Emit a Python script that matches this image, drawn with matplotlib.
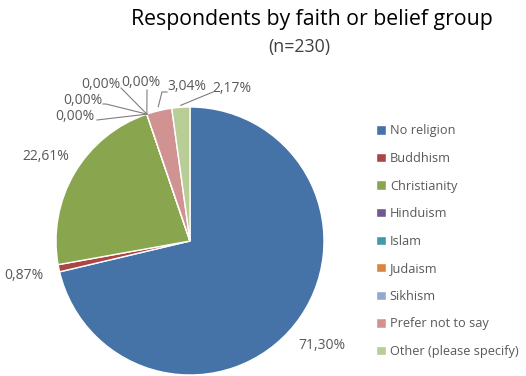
import matplotlib.pyplot as plt
import numpy as np

plt.rcParams['font.family'] = ['Open Sans', 'DejaVu Sans']

# respondents per group (n=230)
groups = ['No religion', 'Buddhism', 'Christianity', 'Hinduism', 'Islam',
          'Judaism', 'Sikhism', 'Prefer not to say', 'Other (please specify)']
counts = [164, 2, 52, 0, 0, 0, 0, 7, 5]
colors = ['#4572A7', '#AA4643', '#89A54E', '#71588F', '#4198AF',
          '#DB843D', '#93A9CF', '#D19392', '#B9CD96']

total = sum(counts)
shares = [100.0 * c / total for c in counts]

W, H = 526, 376
fig = plt.figure(figsize=(W / 100, H / 100), dpi=100)
ax = fig.add_axes([0, 0, 1, 1])

cx, cy, r = 190, 241, 134
# y axis is flipped, so counterclock=True runs clockwise on screen
wedges, _ = ax.pie(counts, colors=colors, startangle=-90, counterclock=True,
                   center=(cx, cy), radius=r, frame=True,
                   wedgeprops=dict(edgecolor='white', linewidth=1))
ax.set_xlim(0, W)
ax.set_ylim(H, 0)
ax.axis('off')


def fmt(v):
    return ('%.2f%%' % v).replace('.', ',')


def edge_pt(w, rr):
    a = np.deg2rad((w.theta1 + w.theta2) / 2)
    return cx + rr * np.cos(a), cy + rr * np.sin(a)


lab_col = '#595959'
fs = 10
# big slices: label out along the middle angle
for i, rr in [(0, 168), (1, 170), (2, 167)]:
    x, y = edge_pt(wedges[i], rr)
    ax.text(x, y, fmt(shares[i]), ha='center', va='center',
            fontsize=fs, color=lab_col)

# small slices: label text position, elbow, line end radius
small = {
    3: ((95, 116), 'right', [(97, 120)], 134),
    4: ((102, 100), 'right', [(103, 104), (106, 104)], 134),
    5: ((120, 84), 'right', [(121, 88)], 134),
    6: ((141, 82), 'center', [(147, 90)], 134),
    7: ((187, 87), 'center', [(167, 92), (162, 92)], 138),
    8: ((232, 88), 'center', [(213, 92)], 136),
}
for i, ((tx, ty), ha, pts, rr) in small.items():
    ax.text(tx, ty, fmt(shares[i]), ha=ha, va='center',
            fontsize=fs, color=lab_col)
    ex, ey = edge_pt(wedges[i], rr)
    xs = [p[0] for p in pts] + [ex]
    ys = [p[1] for p in pts] + [ey]
    ax.plot(xs, ys, color='#7f7f7f', lw=0.8)

ax.text(312, 20, 'Respondents by faith or belief group', ha='center',
        va='center', fontsize=15.3, color='black')
ax.text(299, 47, '(n=%d)' % total, ha='center', va='center',
        fontsize=12.8, color='#404040')

leg = ax.legend(wedges, groups, loc='upper left',
                bbox_to_anchor=(370 / W, 1 - 118 / H),
                bbox_transform=fig.transFigure, frameon=False,
                fontsize=9.2, handlelength=0.75, handleheight=0.75,
                handletextpad=0.3, labelspacing=1.14, borderpad=0)
for t in leg.get_texts():
    t.set_color(lab_col)

fig.savefig('out.png', dpi=100)
